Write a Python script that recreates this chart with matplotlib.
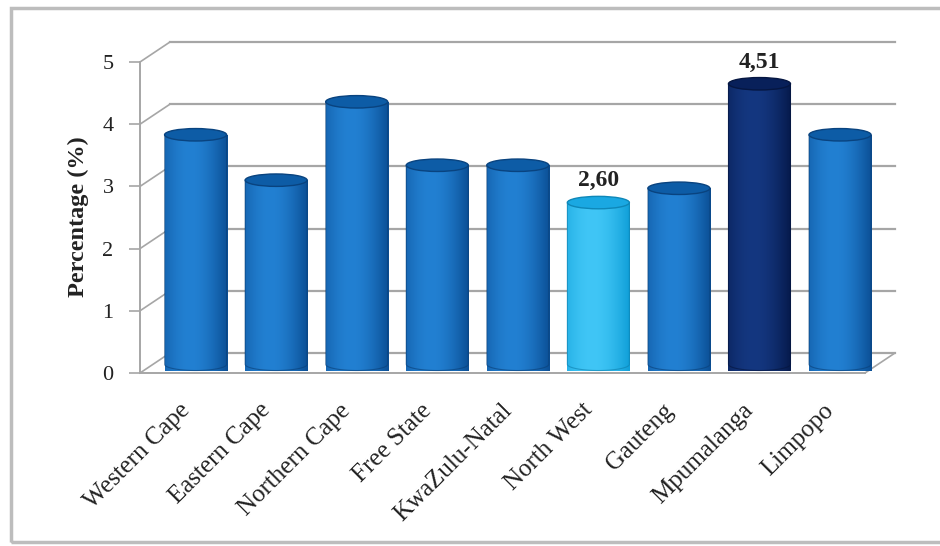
import numpy as np
import matplotlib
matplotlib.use("Agg")
import matplotlib.pyplot as plt
from matplotlib.patches import Ellipse, PathPatch, Rectangle
from matplotlib.path import Path
from matplotlib.colors import to_rgb
import matplotlib.transforms as mtransforms

# data
provinces = ["Western Cape", "Eastern Cape", "Northern Cape", "Free State",
             "KwaZulu-Natal", "North West", "Gauteng", "Mpumalanga", "Limpopo"]
percent = [3.69, 2.96, 4.22, 3.20, 3.20, 2.60, 2.83, 4.51, 3.69]
bar_tone = ["mid", "mid", "mid", "mid", "mid", "light", "mid", "dark", "mid"]
show_value = [5, 7]  # lowest and highest get a label
yticks = [0, 1, 2, 3, 4, 5]

# (edge colour, highlight colour, top cap colour)
tones = {
    "mid": ("#0b4f95", "#2280d2", "#0d5ca6"),
    "light": ("#109fd8", "#40c6f6", "#1aa8e2"),
    "dark": ("#061a4c", "#143780", "#08205a"),
}

plt.rcParams["font.family"] = ["Liberation Serif", "DejaVu Serif"]
text_col = "#222222"
grid_col = "#a6a6a6"

fig = plt.figure(figsize=(9.4, 5.46), dpi=100)
ax = fig.add_axes([140 / 940, 173 / 546, 725 / 940, 311 / 546])
ax.set_xlim(-0.5, len(provinces) - 0.5)
ax.set_ylim(0, 5)

# depth of the 3d box in data units (back wall, and middle where cylinders sit)
DX, DY = 0.37, 0.32
MX, MY = 0.19, 0.14
bar_w = 0.77
ell_h = 0.2

# back wall gridlines and the diagonals joining them to the front axis
x_left, x_right = -0.5, len(provinces) - 0.5
for y in yticks:
    ax.plot([x_left + DX, x_right + DX], [y + DY, y + DY], color=grid_col,
            lw=1.6, zorder=1, clip_on=False)
    ax.plot([x_left, x_left + DX], [y, y + DY], color=grid_col,
            lw=1.2, zorder=1, clip_on=False)
# right edge of the floor
ax.plot([x_right, x_right + DX], [0, DY], color=grid_col, lw=1.2, zorder=1,
        clip_on=False)

# cylinders
t = np.linspace(0, 1, 96)
shade = np.clip(np.cos((t - 0.4) * np.pi / 1.2), 0, 1)
for i, (v, tone) in enumerate(zip(percent, bar_tone)):
    edge, hi, cap = tones[tone]
    edge, hi = np.array(to_rgb(edge)), np.array(to_rgb(hi))
    img = (edge + (hi - edge) * shade[:, None])[None, :, :]

    xc = i + MX
    base = MY
    top = v + MY
    x0, x1 = xc - bar_w / 2, xc + bar_w / 2
    th = np.linspace(np.pi, 2 * np.pi, 40)
    arc = np.column_stack([xc + bar_w / 2 * np.cos(th),
                           base + ell_h / 2 * np.sin(th)])
    verts = np.vstack([[x0, top], [x0, base], arc, [x1, base], [x1, top], [x0, top]])
    codes = [Path.MOVETO] + [Path.LINETO] * (len(verts) - 2) + [Path.CLOSEPOLY]
    body = PathPatch(Path(verts, codes), transform=ax.transData,
                     facecolor="none", edgecolor=edge * 0.8, lw=0.8,
                     alpha=0.6, zorder=3.1, clip_on=False)
    im = ax.imshow(img, extent=[x0, x1, base - ell_h / 2, top], aspect="auto",
                   interpolation="bilinear", zorder=3, clip_on=False)
    im.set_clip_path(body)
    ax.add_patch(body)
    ax.add_patch(Ellipse((xc, top), bar_w, ell_h, facecolor=cap,
                         edgecolor=edge * 0.85, lw=1.0, zorder=4, clip_on=False))

# value labels on the lowest and highest province
for i in show_value:
    ax.annotate(f"{percent[i]:.2f}".replace(".", ","),
                xy=(i + MX, percent[i] + MY + ell_h / 2),
                xytext=(0, 5), textcoords="offset pixels",
                ha="center", va="bottom", fontsize=17, fontweight="bold",
                color=text_col, zorder=5, annotation_clip=False)

# front axis
for s in ["top", "right"]:
    ax.spines[s].set_visible(False)
for s in ["left", "bottom"]:
    ax.spines[s].set_color(grid_col)
    ax.spines[s].set_linewidth(1.4)
ax.set_yticks(yticks)
ax.set_yticklabels([str(y) for y in yticks], fontsize=16, color=text_col)
ax.tick_params(axis="y", length=8, width=1.2, color=grid_col, pad=11)
ax.set_xticks([])
ax.patch.set_alpha(0)

lab_trans = mtransforms.offset_copy(ax.transData, fig=fig, x=6, y=-34, units="dots")
for i, name in enumerate(provinces):
    ax.text(i, 0, name, transform=lab_trans, rotation=45, rotation_mode="anchor",
            ha="right", va="center", fontsize=18, color=text_col)

fig.text(78 / 940, 1 - 217 / 546, "Percentage (%)", rotation=90, ha="center",
         va="center", fontsize=17.5, fontweight="bold", color=text_col)

# outer border of the chart area
fig.add_artist(Rectangle((11 / 940, 4 / 546), 1.0, 0.978, transform=fig.transFigure,
                         fill=False, edgecolor="#bdbdbd", lw=2.5))

fig.savefig("out.png", dpi=100)
